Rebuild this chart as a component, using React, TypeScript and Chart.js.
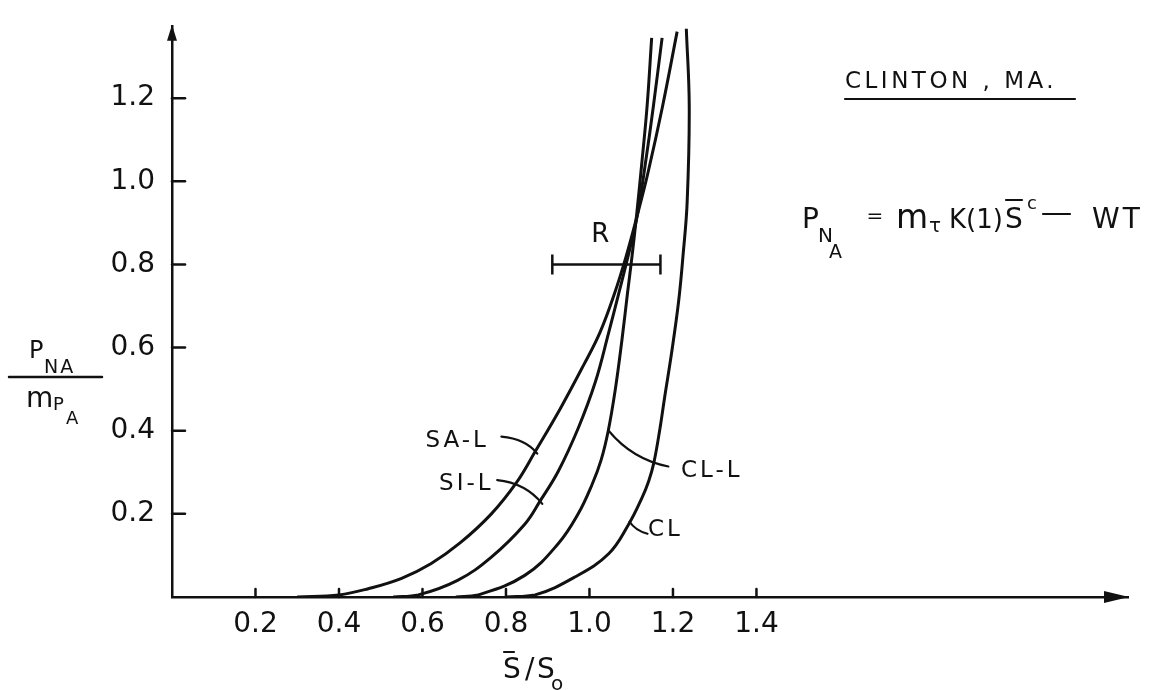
import React, { useEffect, useRef } from "react";
import { Chart, registerables } from "chart.js";

Chart.register(...registerables);

const INK = "#111111";
const FONT = '"DejaVu Sans", "Noto Sans", sans-serif';

// Axis ticks
const xTicks = [0.2, 0.4, 0.6, 0.8, 1.0, 1.2, 1.4];
const yTicks = [0.2, 0.4, 0.6, 0.8, 1.0, 1.2];

// Curves (x = S̄/S0, y = P_NA / m_PA)
const saLX = [0.30, 0.40, 0.47, 0.55, 0.62, 0.69, 0.765, 0.825, 0.87, 0.93, 0.985, 1.025, 1.06, 1.088, 1.115, 1.14, 1.175, 1.21];
const saLY = [0.0, 0.005, 0.02, 0.045, 0.08, 0.13, 0.2, 0.275, 0.35, 0.453, 0.556, 0.636, 0.73, 0.82, 0.92, 1.02, 1.18, 1.36];

const siLX = [0.53, 0.59, 0.684, 0.765, 0.845, 0.883, 0.925, 0.973, 1.014, 1.046, 1.07, 1.095, 1.115, 1.135, 1.153, 1.174];
const siLY = [0.0, 0.005, 0.04, 0.096, 0.175, 0.233, 0.302, 0.406, 0.517, 0.636, 0.73, 0.83, 0.92, 1.05, 1.18, 1.345];

const clLX = [0.68, 0.733, 0.845, 0.925, 0.973, 1.006, 1.028, 1.045, 1.062, 1.078, 1.091, 1.102, 1.113, 1.126, 1.138, 1.149];
const clLY = [0.0, 0.005, 0.052, 0.128, 0.2, 0.27, 0.33, 0.4, 0.5, 0.62, 0.73, 0.82, 0.92, 1.05, 1.18, 1.345];

const clX = [0.80, 0.87, 0.965, 1.046, 1.094, 1.126, 1.142, 1.154, 1.168, 1.18, 1.198, 1.214, 1.224, 1.234, 1.239, 1.232];
const clY = [0.0, 0.005, 0.048, 0.104, 0.175, 0.239, 0.279, 0.322, 0.40, 0.48, 0.596, 0.715, 0.82, 0.95, 1.18, 1.367];

// Range bar "R"
const rangeX = [0.911, 1.17];
const rangeY = [0.8, 0.8];

// Curve labels with leader arcs (data units): [start, control, end]
const curveNames = ["SA-L", "SI-L", "CL-L", "CL"];
const labelX = [0.683, 0.705, 1.293, 1.182];
const labelY = [0.374, 0.271, 0.302, 0.16];
const leaderX = [
  [0.789, 0.847, 0.875],
  [0.779, 0.847, 0.887],
  [1.189, 1.103, 1.046],
  [1.139, 1.11, 1.096],
];
const leaderY = [
  [0.386, 0.381, 0.345],
  [0.281, 0.274, 0.224],
  [0.314, 0.331, 0.40],
  [0.152, 0.16, 0.181],
];

const zip = (xs: number[], ys: number[]) => xs.map((x, i) => ({ x, y: ys[i] }));

const annotations = {
  id: "annotations",
  afterDraw(chart: any) {
    const { ctx, chartArea: ca, scales } = chart;
    const xs = scales.x;
    const ys = scales.y;
    const px = (v: number) => xs.getPixelForValue(v);
    const py = (v: number) => ys.getPixelForValue(v);
    ctx.save();
    (ctx as any).letterSpacing = "0px";
    ctx.strokeStyle = INK;
    ctx.fillStyle = INK;
    ctx.lineCap = "round";
    ctx.lineWidth = 2.5;

    const line = (x1: number, y1: number, x2: number, y2: number) => {
      ctx.beginPath();
      ctx.moveTo(x1, y1);
      ctx.lineTo(x2, y2);
      ctx.stroke();
    };
    const text = (s: string, x: number, y: number, size: number, align = "left", spacing = 0) => {
      ctx.font = `${size}px ${FONT}`;
      (ctx as any).letterSpacing = `${spacing}px`;
      ctx.textAlign = align;
      ctx.textBaseline = "alphabetic";
      ctx.fillText(s, x, y);
      (ctx as any).letterSpacing = "0px";
    };

    // tick marks (inside)
    yTicks.forEach((v) => line(ca.left, py(v), ca.left + 13, py(v)));
    xTicks.forEach((v) => line(px(v), ca.bottom, px(v), ca.bottom - 8));

    // arrow heads
    ctx.beginPath();
    ctx.moveTo(ca.left, ca.top - 1);
    ctx.lineTo(ca.left - 5, ca.top + 15);
    ctx.lineTo(ca.left + 5, ca.top + 15);
    ctx.closePath();
    ctx.fill();
    ctx.beginPath();
    ctx.moveTo(ca.right + 1, ca.bottom);
    ctx.lineTo(ca.right - 24, ca.bottom - 6);
    ctx.lineTo(ca.right - 24, ca.bottom + 6);
    ctx.closePath();
    ctx.fill();

    // curve labels + leaders
    ctx.lineWidth = 2.2;
    curveNames.forEach((name, i) => {
      ctx.font = `23px ${FONT}`;
      ctx.textBaseline = "middle";
      (ctx as any).letterSpacing = "3px";
      ctx.textAlign = "center";
      ctx.fillText(name, px(labelX[i]), py(labelY[i]));
      (ctx as any).letterSpacing = "0px";
      ctx.beginPath();
      ctx.moveTo(px(leaderX[i][0]), py(leaderY[i][0]));
      ctx.quadraticCurveTo(px(leaderX[i][1]), py(leaderY[i][1]), px(leaderX[i][2]), py(leaderY[i][2]));
      ctx.stroke();
    });

    // R label
    ctx.font = `26px ${FONT}`;
    ctx.textAlign = "center";
    ctx.textBaseline = "middle";
    ctx.fillText("R", px(1.026), py(0.869));

    // title
    text("CLINTON , MA.", 845, 88, 23, "left", 3.5);
    ctx.lineWidth = 2.2;
    line(845, 99, 1075, 99);

    // formula
    text("P", 802, 228, 28);
    text("N", 818, 242, 20);
    text("A", 829, 258, 19);
    text("=", 875, 222, 20, "center");
    text("m", 896, 228, 33);
    text("τ", 929, 232, 20);
    text("K(1)", 949, 228, 26);
    text("S", 1005, 228, 28);
    line(1006, 200, 1022, 200);
    text("c", 1027, 209, 18);
    line(1043, 214, 1070, 214);
    text("WT", 1092, 228, 28, "left", 3);

    // y-axis title (fraction)
    text("P", 29, 358, 24);
    text("NA", 44, 373, 19, "left", 2);
    ctx.lineWidth = 2.5;
    line(9, 377, 102, 377);
    text("m", 26, 407, 28);
    text("P", 53, 410, 18);
    text("A", 66, 424, 18);

    // x-axis title
    text("S", 503, 678, 28);
    ctx.lineWidth = 2.2;
    line(504, 652, 514, 652);
    text("/", 525, 678, 28);
    text("S", 537, 678, 28);
    text("o", 551, 690, 20);

    ctx.restore();
  },
};

export default function App() {
  const ref = useRef<HTMLCanvasElement | null>(null);
  useEffect(() => {
    if (!ref.current) return;
    const lineDs = (label: string, xs: number[], ys: number[]) => ({
      label,
      data: zip(xs, ys),
      borderColor: INK,
      borderWidth: 3,
      pointRadius: 0,
      tension: 0.4,
      fill: false,
    });
    const chart = new Chart(ref.current, {
      type: "line",
      data: {
        datasets: [
          lineDs("SA-L", saLX, saLY),
          lineDs("SI-L", siLX, siLY),
          lineDs("CL-L", clLX, clLY),
          lineDs("CL", clX, clY),
          {
            label: "R",
            data: zip(rangeX, rangeY),
            borderColor: INK,
            backgroundColor: INK,
            borderWidth: 2.5,
            pointStyle: "line",
            rotation: 90,
            pointRadius: 10,
            pointBorderWidth: 2.5,
            pointBorderColor: INK,
            tension: 0,
          } as any,
        ],
      },
      options: {
        indexAxis: "y",
        responsive: false,
        animation: false,
        devicePixelRatio: 1,
        layout: { padding: { top: 20, right: 41, left: 0, bottom: 0 } },
        plugins: { legend: { display: false }, tooltip: { enabled: false } },
        scales: {
          x: {
            type: "linear",
            position: "bottom",
            min: 0,
            max: 2.29,
            afterBuildTicks: (s: any) => {
              s.ticks = xTicks.map((value) => ({ value }));
            },
            afterFit: (s: any) => {
              s.height = 93;
            },
            grid: { display: false },
            border: { display: true, color: INK, width: 2.5 },
            ticks: {
              color: INK,
              padding: 3,
              maxRotation: 0,
              font: { family: FONT, size: 28 },
              callback: (v: any) => Number(v).toFixed(1),
            },
          },
          y: {
            type: "linear",
            position: "left",
            min: 0,
            max: 1.374,
            afterBuildTicks: (s: any) => {
              s.ticks = yTicks.map((value) => ({ value }));
            },
            afterFit: (s: any) => {
              s.width = 172;
            },
            grid: { display: false },
            border: { display: true, color: INK, width: 2.5 },
            ticks: {
              color: INK,
              padding: 9,
              font: { family: FONT, size: 28 },
              callback: (v: any) => Number(v).toFixed(1),
            },
          },
        },
      } as any,
      plugins: [annotations],
    });
    return () => chart.destroy();
  }, []);
  return (
    <div style={{ position: "fixed", left: 0, top: 0, width: 1169, height: 690, background: "#fff" }}>
      <canvas ref={ref} width={1169} height={690} />
    </div>
  );
}
